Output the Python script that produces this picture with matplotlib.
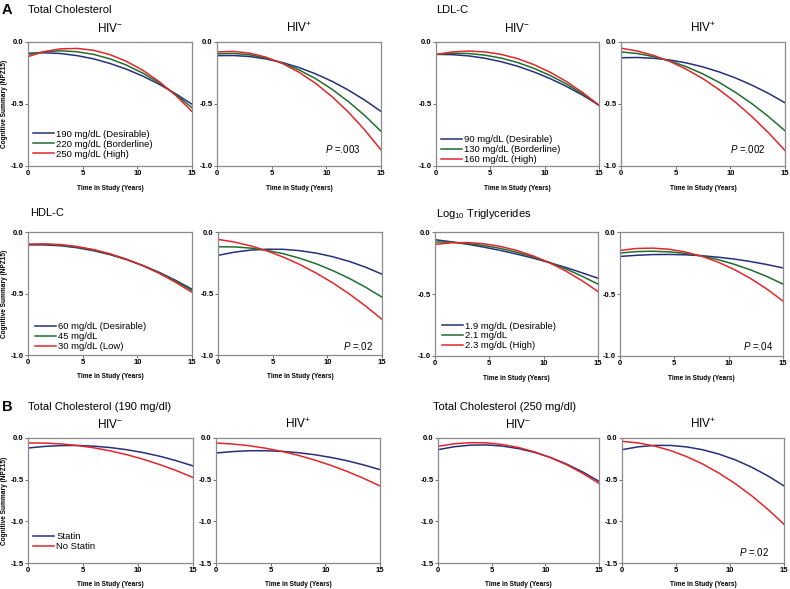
import numpy as np
import matplotlib
matplotlib.use("Agg")
import matplotlib.pyplot as plt

plt.rcParams['font.family'] = ['Liberation Sans', 'DejaVu Sans']
plt.rcParams['mathtext.fontset'] = 'custom'
plt.rcParams['mathtext.rm'] = 'Liberation Sans'
plt.rcParams['mathtext.it'] = 'Liberation Sans:italic'
plt.rcParams['axes.unicode_minus'] = False

# ---- data ----
years = [0, 1.5, 3, 4.5, 6, 7.5, 9, 10.5, 12, 13.5, 15]

# A: total cholesterol
tc_neg_190 = [-0.090, -0.087, -0.093, -0.110, -0.136, -0.173, -0.219, -0.275, -0.341, -0.417, -0.502]
tc_neg_220 = [-0.100, -0.079, -0.071, -0.079, -0.100, -0.136, -0.186, -0.251, -0.329, -0.423, -0.530]
tc_neg_250 = [-0.118, -0.077, -0.055, -0.052, -0.067, -0.102, -0.156, -0.228, -0.320, -0.430, -0.560]
tc_pos_190 = [-0.110, -0.109, -0.117, -0.137, -0.166, -0.206, -0.256, -0.316, -0.387, -0.468, -0.560]
tc_pos_220 = [-0.095, -0.092, -0.103, -0.130, -0.170, -0.225, -0.295, -0.380, -0.479, -0.592, -0.720]
tc_pos_250 = [-0.080, -0.076, -0.090, -0.123, -0.174, -0.244, -0.332, -0.439, -0.564, -0.708, -0.870]
tc_labels = ['190 mg/dL (Desirable)', '220 mg/dL (Borderline)', '250 mg/dL (High)']

# A: LDL-C
ldl_neg_90 = [-0.100, -0.102, -0.112, -0.131, -0.159, -0.195, -0.241, -0.295, -0.358, -0.429, -0.510]
ldl_neg_130 = [-0.100, -0.091, -0.093, -0.106, -0.130, -0.165, -0.212, -0.270, -0.339, -0.419, -0.510]
ldl_neg_160 = [-0.100, -0.080, -0.073, -0.080, -0.100, -0.134, -0.182, -0.244, -0.319, -0.408, -0.510]
ldl_pos_90 = [-0.127, -0.125, -0.131, -0.146, -0.169, -0.201, -0.242, -0.291, -0.349, -0.415, -0.490]
ldl_pos_130 = [-0.080, -0.093, -0.118, -0.153, -0.200, -0.258, -0.327, -0.408, -0.499, -0.602, -0.716]
ldl_pos_160 = [-0.050, -0.073, -0.109, -0.158, -0.221, -0.296, -0.386, -0.488, -0.604, -0.733, -0.875]
ldl_labels = ['90 mg/dL (Desirable)', '130 mg/dL (Borderline)', '160 mg/dL (High)']

# A: HDL-C
hdl_neg_60 = [-0.105, -0.105, -0.112, -0.128, -0.152, -0.184, -0.224, -0.272, -0.328, -0.393, -0.465]
hdl_neg_45 = [-0.100, -0.099, -0.107, -0.123, -0.147, -0.181, -0.222, -0.273, -0.332, -0.399, -0.475]
hdl_neg_30 = [-0.100, -0.097, -0.102, -0.118, -0.143, -0.177, -0.221, -0.274, -0.336, -0.409, -0.490]
hdl_pos_60 = [-0.190, -0.164, -0.147, -0.140, -0.141, -0.152, -0.172, -0.201, -0.239, -0.286, -0.343]
hdl_pos_45 = [-0.120, -0.121, -0.131, -0.150, -0.177, -0.214, -0.259, -0.314, -0.377, -0.449, -0.530]
hdl_pos_30 = [-0.060, -0.082, -0.113, -0.154, -0.205, -0.265, -0.335, -0.414, -0.503, -0.602, -0.710]
hdl_labels = ['60 mg/dL (Desirable)', '45 mg/dL', '30 mg/dL (Low)']

# A: log10 triglycerides
tg_neg_19 = [-0.062, -0.079, -0.099, -0.122, -0.148, -0.178, -0.210, -0.246, -0.285, -0.328, -0.373]
tg_neg_21 = [-0.080, -0.083, -0.092, -0.109, -0.132, -0.163, -0.200, -0.245, -0.296, -0.355, -0.420]
tg_neg_23 = [-0.100, -0.087, -0.085, -0.095, -0.116, -0.148, -0.192, -0.247, -0.313, -0.391, -0.480]
tg_pos_19 = [-0.197, -0.188, -0.182, -0.181, -0.184, -0.191, -0.203, -0.218, -0.238, -0.262, -0.290]
tg_pos_21 = [-0.170, -0.158, -0.155, -0.160, -0.172, -0.193, -0.222, -0.260, -0.305, -0.358, -0.420]
tg_pos_23 = [-0.149, -0.133, -0.130, -0.139, -0.161, -0.195, -0.242, -0.302, -0.374, -0.459, -0.557]
tg_labels = ['1.9 mg/dL (Desirable)', '2.1 mg/dL', '2.3 mg/dL (High)']

# B: statin use
s190_neg_statin = [-0.120, -0.101, -0.091, -0.090, -0.098, -0.115, -0.141, -0.176, -0.220, -0.273, -0.335]
s190_neg_nostatin = [-0.060, -0.061, -0.071, -0.090, -0.118, -0.155, -0.201, -0.256, -0.320, -0.392, -0.474]
s190_pos_statin = [-0.180, -0.163, -0.153, -0.153, -0.160, -0.176, -0.200, -0.233, -0.273, -0.323, -0.380]
s190_pos_nostatin = [-0.060, -0.072, -0.092, -0.122, -0.160, -0.207, -0.263, -0.328, -0.401, -0.484, -0.575]
s250_neg_statin = [-0.140, -0.105, -0.086, -0.083, -0.097, -0.127, -0.173, -0.235, -0.314, -0.409, -0.520]
s250_neg_nostatin = [-0.100, -0.069, -0.056, -0.058, -0.078, -0.114, -0.167, -0.236, -0.322, -0.425, -0.545]
s250_pos_statin = [-0.140, -0.106, -0.089, -0.089, -0.107, -0.142, -0.194, -0.263, -0.350, -0.454, -0.575]
s250_pos_nostatin = [-0.040, -0.059, -0.096, -0.151, -0.224, -0.314, -0.423, -0.549, -0.693, -0.855, -1.035]
statin_labels = ['Statin', 'No Statin']

blue = '#27307a'
green = '#1f6e2e'
red = '#e3262b'

W, H = 790, 589
fig = plt.figure(figsize=(W / 100, H / 100), dpi=100)


def box(l, t, r, b):
    return [l / W, 1 - b / H, (r - l) / W, (b - t) / H]


def panel(px, series, colors, ymin, title=None, ylabel=False, labels=None,
          leg_at=None, ptext=None, p_at=None):
    l, t, r, b = px
    ax = fig.add_axes(box(l, t, r, b))
    for s, c in zip(series, colors):
        ax.plot(years, s, color=c, lw=1.1)
    ax.set_xlim(0, 15)
    ax.set_ylim(ymin, 0)
    ax.set_xticks([0, 5, 10, 15])
    yt = np.arange(0, ymin - 0.01, -0.5)
    ax.set_yticks(yt)
    ax.set_yticklabels(['%.1f' % v for v in yt])
    ax.tick_params(direction='out', length=2, width=0.6, colors='#555555',
                   labelsize=5.5, pad=1.2, labelcolor='black')
    for lab in ax.get_xticklabels() + ax.get_yticklabels():
        lab.set_fontweight('bold')
    for sp in ax.spines.values():
        sp.set_color('#8a8a8a')
        sp.set_linewidth(0.9)
    h = b - t
    ax.text(0.5, -22 / h, 'Time in Study (Years)', transform=ax.transAxes,
            ha='center', va='center', fontsize=4.7, fontweight='bold')
    if title:
        ax.text(0.5, 1 + 14 / h, title, transform=ax.transAxes,
                ha='center', va='center', fontsize=8.5)
    if ylabel:
        fig.text(5 / W, 1 - (t + b) / 2 / H, 'Cognitive Summary (NPZ15)',
                 rotation=90, ha='center', va='center', fontsize=4.7,
                 fontweight='bold')
    if labels:
        ax.legend(ax.lines, labels, loc='lower left', bbox_to_anchor=leg_at,
                  frameon=False, fontsize=6.8, handlelength=2.2,
                  handletextpad=0.25, labelspacing=0.1, borderpad=0,
                  borderaxespad=0)
    if ptext:
        ax.text(p_at[0], p_at[1], ptext, transform=ax.transAxes,
                ha='right', va='center', fontsize=7)
    return ax


c3 = [blue, green, red]
c2 = [blue, red]
neg = r'HIV$^{-}$'
pos = r'HIV$^{+}$'

# row 1
panel((28, 42, 192, 166), [tc_neg_190, tc_neg_220, tc_neg_250], c3, -1.0,
      title=neg, ylabel=True, labels=tc_labels, leg_at=(0.03, 0.06))
panel((217, 42, 381, 166), [tc_pos_190, tc_pos_220, tc_pos_250], c3, -1.0,
      title=pos, ptext=r'$P$ =.003', p_at=(0.872, 0.137))
panel((436, 42, 599, 166), [ldl_neg_90, ldl_neg_130, ldl_neg_160], c3, -1.0,
      title=neg, labels=ldl_labels, leg_at=(0.03, 0.015))
panel((621, 42, 785, 166), [ldl_pos_90, ldl_pos_130, ldl_pos_160], c3, -1.0,
      title=pos, ptext=r'$P$ =.002', p_at=(0.878, 0.137))

# row 2
panel((28, 232, 192, 355), [hdl_neg_60, hdl_neg_45, hdl_neg_30], c3, -1.0,
      ylabel=True, labels=hdl_labels, leg_at=(0.043, 0.03))
panel((218, 232, 382, 355), [hdl_pos_60, hdl_pos_45, hdl_pos_30], c3, -1.0,
      ptext=r'$P$ =.02', p_at=(0.945, 0.076))
panel((435, 232, 598, 356), [tg_neg_19, tg_neg_21, tg_neg_23], c3, -1.0,
      labels=tg_labels, leg_at=(0.043, 0.045))
panel((620, 232, 783, 356), [tg_pos_19, tg_pos_21, tg_pos_23], c3, -1.0,
      ptext=r'$P$ =.04', p_at=(0.939, 0.083))

# row 3
panel((28, 438, 193, 563), [s190_neg_statin, s190_neg_nostatin], c2, -1.5,
      title=neg, ylabel=True, labels=statin_labels, leg_at=(0.03, 0.096))
panel((216, 438, 380, 563), [s190_pos_statin, s190_pos_nostatin], c2, -1.5,
      title=pos)
panel((438, 438, 599, 563), [s250_neg_statin, s250_neg_nostatin], c2, -1.5,
      title=neg)
panel((622, 438, 784, 563), [s250_pos_statin, s250_pos_nostatin], c2, -1.5,
      title=pos, ptext=r'$P$ =.02', p_at=(0.907, 0.09))


def ftext(x, y, s, **kw):
    fig.text(x / W, 1 - y / H, s, va='center', **kw)


ftext(2, 10, 'A', fontsize=10.5, fontweight='bold')
ftext(28, 10, 'Total Cholesterol', fontsize=8)
ftext(436, 10, 'LDL-C', fontsize=8)
ftext(30, 213, 'HDL-C', fontsize=8)
ftext(436, 214, r'Log$_{10}$ Triglycerides', fontsize=8)
ftext(2, 407, 'B', fontsize=10.5, fontweight='bold')
ftext(28, 407, 'Total Cholesterol (190 mg/dl)', fontsize=8)
ftext(433, 407, 'Total Cholesterol (250 mg/dl)', fontsize=8)

fig.savefig('out.png', dpi=100)
